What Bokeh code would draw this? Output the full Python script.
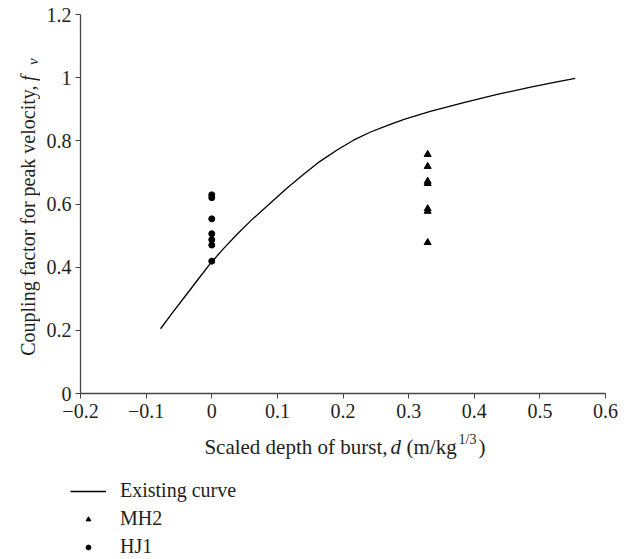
import math
from bokeh.plotting import figure
from bokeh.models import Legend, LegendItem, FixedTicker, Range1d
from bokeh.layouts import column, row
from bokeh.core.properties import value
from bokeh.embed import file_html
from bokeh.resources import INLINE

# ---- data ----
curve_x = [-0.078, -0.060, -0.042, -0.021, -0.002, 0.019, 0.039, 0.062, 0.0895, 0.114, 0.140, 0.165, 0.191,
           0.216, 0.242, 0.268, 0.293, 0.333, 0.384, 0.435, 0.486, 0.520, 0.554]
curve_y = [0.205, 0.255, 0.304, 0.361, 0.412, 0.461, 0.505, 0.552, 0.603, 0.649, 0.694, 0.735, 0.771,
           0.802, 0.828, 0.849, 0.868, 0.893, 0.921, 0.947, 0.970, 0.984, 0.998]

mh2_x = [0.329, 0.329, 0.329, 0.329, 0.329, 0.329, 0.329]
mh2_y = [0.757, 0.719, 0.672, 0.665, 0.585, 0.577, 0.478]

hj1_x = [0.0, 0.0, 0.0, 0.0, 0.0, 0.0, 0.0]
hj1_y = [0.629, 0.620, 0.553, 0.506, 0.487, 0.470, 0.419]

x_ticks = [-0.2, -0.1, 0.0, 0.1, 0.2, 0.3, 0.4, 0.5, 0.6]
x_tick_labels = ["\u22120.2", "\u22120.1", "0", "0.1", "0.2", "0.3", "0.4", "0.5", "0.6"]
y_ticks = [0.0, 0.2, 0.4, 0.6, 0.8, 1.0, 1.2]
y_tick_labels = ["0", "0.2", "0.4", "0.6", "0.8", "1", "1.2"]

series_labels = ["Existing curve", "MH2", "HJ1"]

FONT = "Liberation Serif"
FS = "20px"
LFS = "21px"
INK = "#231f20"
AXC = "#444444"
NAN = float("nan")

W, H = 633, 559
H1 = 427          # height of top row (plot + x tick labels)
YW = 40           # width of the y-label strip
H2 = H - H1       # bottom strip (x label + legend)


def blank(width, height, xr, yr):
    f = figure(width=width, height=height, output_backend="svg", toolbar_location=None,
               x_range=Range1d(*xr), y_range=Range1d(*yr),
               min_border=0, min_border_left=0, min_border_right=0, min_border_top=0, min_border_bottom=0)
    f.axis.visible = False
    f.grid.visible = False
    f.outline_line_color = None
    return f


# ---- main plot ----
p = figure(width=W - YW, height=H1, output_backend="svg", toolbar_location=None,
           x_range=Range1d(-0.2, 0.6), y_range=Range1d(0, 1.2),
           min_border_left=80 - YW, min_border_right=28, min_border_top=14, min_border_bottom=H1 - 393)
p.outline_line_color = None
p.xgrid.visible = False
p.ygrid.visible = False

for ax, ticks, labels in ((p.xaxis[0], x_ticks, x_tick_labels), (p.yaxis[0], y_ticks, y_tick_labels)):
    ax.ticker = FixedTicker(ticks=ticks)
    ax.major_label_overrides = {t: l for t, l in zip(ticks, labels)}
    ax.major_label_text_font = FONT
    ax.major_label_text_font_size = FS
    ax.major_label_text_color = INK
    ax.axis_line_color = AXC
    ax.axis_line_width = 1.3
    ax.major_tick_line_color = AXC
    ax.major_tick_out = 5
    ax.major_tick_in = 0
    ax.minor_tick_out = 0
    ax.minor_tick_in = 0
p.xaxis.major_label_standoff = 5
p.yaxis.major_label_standoff = 4

p.line(curve_x, curve_y, line_color="black", line_width=1.3, line_join="round")
p.scatter(mh2_x, mh2_y, marker="triangle", size=7, fill_color="black", line_color="black")
p.scatter(hj1_x, hj1_y, marker="circle", size=6, fill_color="black", line_color="black")

# ---- y label strip (pixel coordinates of the strip) ----
yl = blank(YW, H1, (0, YW), (0, H1))
def ytext(t, cx, cy, align, style="normal", size=FS):
    yl.text(x=[cx], y=[H1 - cy], text=[t], angle=math.pi / 2, text_align=align,
            text_baseline="alphabetic", text_font=value(FONT), text_font_size=size,
            text_font_style=style, text_color=INK)
ytext("Coupling factor for peak velocity,", 27, 80, "right")
ytext("f", 27, 75, "left", style="italic")
ytext("\u03bd", 32, 57, "left", style="italic", size="15px")

# ---- bottom strip: x label + legend ----
bt = blank(W, H2, (0, W), (0, H2))
def xtext(t, cx, cy, align="left", style="normal", size=LFS):
    bt.text(x=[cx], y=[H2 - (cy - H1)], text=[t], text_align=align, text_baseline="alphabetic",
            text_font=value(FONT), text_font_size=size, text_font_style=style, text_color=INK)
BASE = 446
xtext("Scaled depth of burst,", 387, BASE, align="right")
xtext("d", 390, BASE, style="italic")
xtext("(m/kg", 406, BASE)
xtext("1/3", 458, BASE - 7, size="14px")
xtext(")", 478, BASE)

lr = bt.line([NAN], [NAN], line_color="black", line_width=1.3)
tr = bt.scatter([NAN], [NAN], marker="triangle", fill_color="black", line_color="black")
cr = bt.scatter([NAN], [NAN], marker="circle", fill_color="black", line_color="black")
legend = Legend(items=[LegendItem(label=series_labels[0], renderers=[lr]),
                       LegendItem(label=series_labels[1], renderers=[tr]),
                       LegendItem(label=series_labels[2], renderers=[cr])],
                location=(70, 1), padding=0, margin=0, spacing=5,
                glyph_width=36, glyph_height=12, label_height=20, label_standoff=14,
                label_text_font=FONT, label_text_font_size=FS, label_text_color=INK,
                label_text_baseline="middle",
                border_line_color=None, background_fill_alpha=0)
bt.add_layout(legend, "center")

layout = column(row(yl, p, spacing=0), bt, spacing=0)
open("out.html", "w").write(file_html(layout, INLINE))
